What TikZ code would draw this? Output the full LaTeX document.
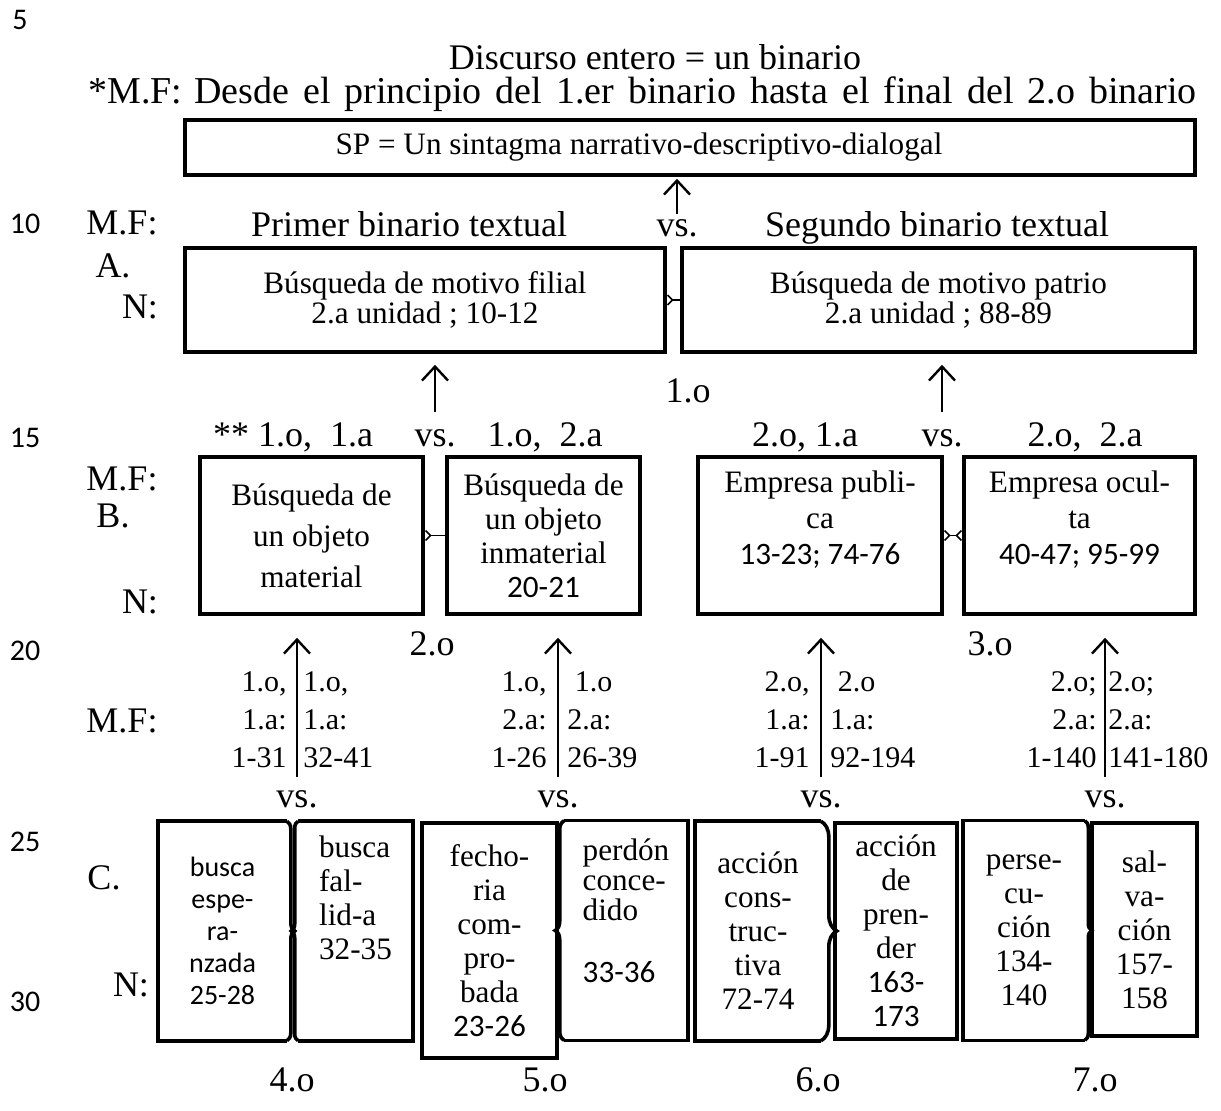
\documentclass[tikz,border=0pt]{standalone}
\usepackage{fontspec}
\setmainfont{Liberation Serif}
\newfontfamily\calib{Carlito}
\usetikzlibrary{arrows.meta,decorations.pathreplacing}
\newcommand\fbig{\fontsize{18}{21}\selectfont}
\newcommand\fmid{\fontsize{15.6}{15}\selectfont}
\newcommand\fnum{\fontsize{15}{19}\selectfont}
\newcommand\flin{\calib\fontsize{15}{17}\selectfont}
\begin{document}
\begin{tikzpicture}[x=0.5pt,y=-0.5pt,
  lbl/.style={font=\fbig,inner sep=1pt,anchor=base},
  lnum/.style={font=\flin,inner sep=0pt},
  nums/.style={font=\fnum,inner sep=0pt},
  box/.style={draw,line width=1.8pt,align=center,font=\fmid,inner sep=0pt},
  cbox/.style={line width=1.8pt,align=center,inner sep=0pt,minimum height=108pt,
    font=\fontsize{15.6}{17}\selectfont},
  frame/.style={line width=1.8pt},
  brc/.style={line width=1.8pt,decorate,decoration={brace,amplitude=#1}},
  up/.style={line width=1.2pt,-{Straight Barb[length=7pt,width=13pt]}},
  fork/.style={line width=0.8pt,{Straight Barb[reversed,length=2.5pt,width=5pt]}-},
  fork2/.style={line width=0.8pt,{Straight Barb[reversed,length=2.5pt,width=5pt]}-{Straight Barb[reversed,length=2.5pt,width=5pt]}}]
\useasboundingbox (0,0) rectangle (1221,1111);
% line numbers
\node[lnum] (ln5) at (20,20) {5};
\node[lnum] (ln10) at (25,224) {10};
\node[lnum] (ln15) at (25,438) {15};
\node[lnum] (ln20) at (25,651) {20};
\node[lnum] (ln25) at (25,842) {25};
\node[lnum] (ln30) at (25,1002) {30};
% top
\node[lbl] (disc) at (655,70) {Discurso entero = un binario};
\node[lbl,anchor=base west,font=\fontsize{19}{22}\selectfont] (mf0) at (86,104) {\spaceskip=7pt *M.F:\hspace{6pt}Desde el principio del 1.er binario hasta el final del 2.o binario};
\node[box,minimum width=505pt,minimum height=27.5pt] (SP) at (690,147.5) {SP = Un sintagma narrativo-descriptivo-dialogal\hspace*{51pt}};
% row A
\node[lbl] (mfA) at (122,235) {M.F:};
\node[lbl] (labA) at (113,278) {A.};
\node[lbl] (nA) at (140,319) {N:};
\node[lbl] (Pbin) at (409,237) {Primer binario textual};
\node[lbl] (vsA) at (677,237) {vs.};
\node[lbl] (Sbin) at (937,237) {Segundo binario textual};
\node[box,minimum width=240pt,minimum height=52pt] (A1) at (425,300) {Búsqueda de motivo filial\\2.a unidad ; 10-12};
\node[box,minimum width=256.5pt,minimum height=52pt] (A2) at (938.5,300) {Búsqueda de motivo patrio\\2.a unidad ; 88-89};
\node[lbl] (ordA) at (688,403) {1.o};
% row B
\node[lbl] (hB1) at (293,447) {** 1.o,\ \ 1.a};
\node[lbl] (vsB1) at (435,447) {vs.};
\node[lbl] (hB2) at (545,447) {1.o,\ \ 2.a};
\node[lbl] (hB3) at (805,447) {2.o, 1.a};
\node[lbl] (vsB2) at (942,447) {vs.};
\node[lbl] (hB4) at (1085,447) {2.o,\ \ 2.a};
\node[lbl] (mfB) at (122,491) {M.F:};
\node[lbl] (labB) at (113,528) {B.};
\node[lbl] (nB) at (140,614) {N:};
\node[box,minimum width=111.5pt,minimum height=78.5pt,font=\fontsize{15.6}{20.5}\selectfont] (B1) at (311.5,535.5) {Búsqueda de\\un objeto\\material};
\node[box,minimum width=96.5pt,minimum height=78.5pt,font=\fontsize{15.6}{17}\selectfont] (B2) at (543.5,535.5) {Búsqueda de\\un objeto\\inmaterial\\{\calib 20-21}};
\node[box,minimum width=122pt,minimum height=78.5pt,font=\fontsize{15.6}{18}\selectfont] (B3) at (820,535.5) {Empresa publi-\\ca\\{\calib 13-23; 74-76}\\[-6pt]\strut};
\node[box,minimum width=115.5pt,minimum height=78.5pt,font=\fontsize{15.6}{18}\selectfont] (B4) at (1079.5,535.5) {Empresa ocul-\\ta\\{\calib 40-47; 95-99}\\[-6pt]\strut};
\node[lbl] (ordB1) at (432,656) {2.o};
\node[lbl] (ordB2) at (990,656) {3.o};
% M.F row between B and C
\node[lbl] (mfC) at (122,733) {M.F:};
\node[nums,align=right,anchor=east] (l1) at (287,720) {1.o,\\1.a:\\1-31};
\node[nums,align=left,anchor=west] (r1) at (303,720) {1.o,\\1.a:\\32-41};
\node[nums,align=right,anchor=east] (l2) at (547,720) {1.o,\\2.a:\\1-26};
\node[nums,align=left,anchor=west] (r2) at (567,720) {\ 1.o\\2.a:\\26-39};
\node[nums,align=right,anchor=east] (l3) at (810,720) {2.o,\\1.a:\\1-91};
\node[nums,align=left,anchor=west] (r3) at (830,720) {\ 2.o\\1.a:\\92-194};
\node[nums,align=right,anchor=east] (l4) at (1097,720) {2.o;\\2.a:\\1-140};
\node[nums,align=left,anchor=west] (r4) at (1108,720) {2.o;\\2.a:\\141-180};
\node[lbl] (vsC1) at (297,808) {vs.};
\node[lbl] (vsC2) at (558,808) {vs.};
\node[lbl] (vsC3) at (821,808) {vs.};
\node[lbl] (vsC4) at (1105,808) {vs.};
% row C
\node[lbl] (labC) at (104,889) {C.};
\node[lbl] (nC) at (131,996) {N:};
\node[cbox,minimum width=62.5pt,font=\calib\fontsize{14}{16}\selectfont] (C1) at (222.5,931) {busca\\espe-\\ra-\\nzada\\25-28};
\node[cbox,minimum width=55.5pt,align=left] (C2) at (355.5,931) {busca\\fal-\\lid-a\\32-35\\ \strut\\[-6pt] \strut};
\node[cbox,draw,minimum width=67.5pt,minimum height=117.5pt] (C3) at (489.5,940.5) {fecho-\\ria\\com-\\pro-\\bada\\{\calib 23-26}};
\node[cbox,minimum width=60pt,align=left,font=\fontsize{15.6}{15}\selectfont] (C4) at (626,930.5) {perdón\\conce-\\dido\\ \strut\\{\calib 33-36}\\ \strut};
\node[cbox,minimum width=61pt] (C5) at (758,931) {acción\\cons-\\truc-\\tiva\\72-74};
\node[cbox,draw,minimum width=61pt] (C6) at (896,931) {acción\\de\\pren-\\der\\{\calib 163-}\\{\calib 173}};
\node[cbox,minimum width=59pt] (C7) at (1024,930.5) {perse-\\cu-\\ción\\134-\\140};
\node[cbox,draw,minimum width=52.5pt,minimum height=106.5pt] (C8) at (1144.5,929.5) {sal-\\va-\\ción\\157-\\158};
\node[lbl] (ord4) at (292,1091) {4.o};
\node[lbl] (ord5) at (545,1091) {5.o};
\node[lbl] (ord6) at (818,1091) {6.o};
\node[lbl] (ord7) at (1095,1091) {7.o};
% C frames with braces
\draw[frame] (C1.north east) -- (C1.north west) -- (C1.south west) -- (C1.south east);
\draw[brc=4pt] (C1.north east) -- (C1.south east);
\draw[frame] (C2.north west) -- (C2.north east) -- (C2.south east) -- (C2.south west);
\draw[brc=3.5pt] (C2.south west) -- (C2.north west);
\draw[frame] (C4.north west) -- (C4.north east) -- (C4.south east) -- (C4.south west);
\draw[brc=4.5pt] (C4.south west) -- (C4.north west);
\draw[frame] (C5.north east) -- (C5.north west) -- (C5.south west) -- (C5.south east);
\draw[brc=8pt] (C5.north east) -- (C5.south east);
\draw[frame] (C7.north east) -- (C7.north west) -- (C7.south west) -- (C7.south east);
\draw[brc=3.5pt] (C7.north east) -- (C7.south east);
% links
\draw[fork] (A1.east) -- (A2.west);
\draw[fork] (B1.east) -- (B2.west);
\draw[fork2] (B3.east) -- (B4.west);
% arrows
\draw[up,shorten <=2pt,shorten >=1pt] (vsA.north) -- (vsA.north |- SP.south);
\draw[up,shorten <=8pt,shorten >=5.5pt] (vsB1.north) -- (vsB1.north |- A1.south);
\draw[up,shorten <=8pt,shorten >=5.5pt] (vsB2.north) -- (vsB2.north |- A2.south);
\draw[up,shorten <=6pt,shorten >=11pt] (vsC1.north) -- (vsC1.north |- B1.south);
\draw[up,shorten <=6pt,shorten >=11pt] (vsC2.north) -- (vsC2.north |- B2.south);
\draw[up,shorten <=6pt,shorten >=11pt] (vsC3.north) -- (vsC3.north |- B3.south);
\draw[up,shorten <=6pt,shorten >=11pt] (vsC4.north) -- (vsC4.north |- B4.south);
\end{tikzpicture}
\end{document}
